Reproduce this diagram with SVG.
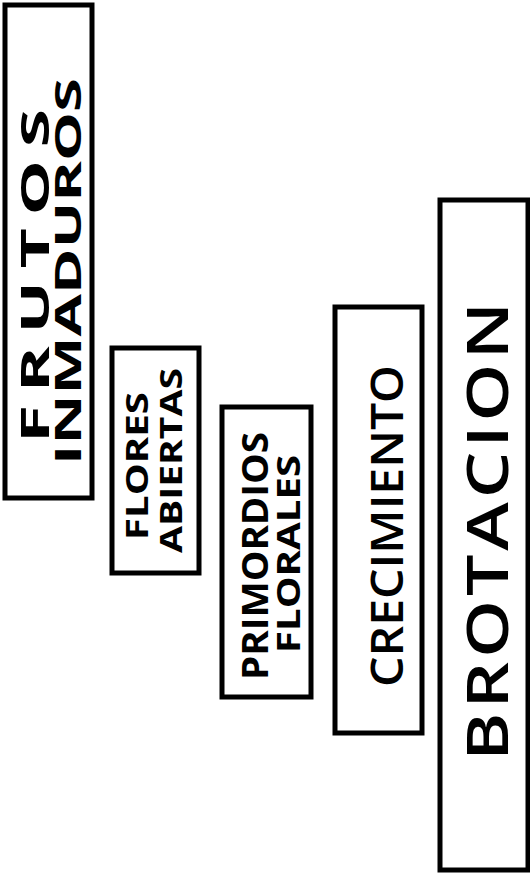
<svg xmlns="http://www.w3.org/2000/svg" width="530" height="876" viewBox="0 0 530 876">
  <style>
    .box { fill: #ffffff; stroke: #000000; stroke-width: 5; }
    .lbl { font-family: "Open Sans", "Liberation Sans", sans-serif; font-weight: 700; fill: #000000; }
    .big { font-weight: 600; }
  </style>
  <rect x="0" y="0" width="530" height="876" fill="#ffffff"/>

  <!-- stage 5: immature fruit -->
  <g id="frutos-inmaduros">
    <rect class="box" x="5" y="5" width="87" height="493"/>
    <text class="lbl" font-size="39" dx="0 7 7 7 7 7" textLength="334" lengthAdjust="spacingAndGlyphs" transform="translate(49,443) rotate(-90)">FRUTOS</text>
    <text class="lbl" font-size="35" textLength="387" lengthAdjust="spacingAndGlyphs" transform="translate(81,465) rotate(-90)">INMADUROS</text>
  </g>

  <!-- stage 4: open flowers -->
  <g id="flores-abiertas">
    <rect class="box" x="112" y="348" width="87" height="225"/>
    <text class="lbl" font-size="30" textLength="148" lengthAdjust="spacingAndGlyphs" transform="translate(148,540) rotate(-90)">FLORES</text>
    <text class="lbl" font-size="31" textLength="185" lengthAdjust="spacingAndGlyphs" transform="translate(182,553) rotate(-90)">ABIERTAS</text>
  </g>

  <!-- stage 3: floral primordia -->
  <g id="primordios-florales">
    <rect class="box" x="222" y="407" width="89" height="290"/>
    <text class="lbl" font-size="35" textLength="248" lengthAdjust="spacingAndGlyphs" transform="translate(268,680) rotate(-90)">PRIMORDIOS</text>
    <text class="lbl" font-size="33" textLength="198" lengthAdjust="spacingAndGlyphs" transform="translate(300,653) rotate(-90)">FLORALES</text>
  </g>

  <!-- stage 2: growth -->
  <g id="crecimiento">
    <rect class="box" x="335" y="307" width="87" height="426"/>
    <text class="lbl big" font-size="46" textLength="322" lengthAdjust="spacingAndGlyphs" transform="translate(403,687) rotate(-90)">CRECIMIENTO</text>
  </g>

  <!-- stage 1: budding -->
  <g id="brotacion">
    <rect class="box" x="440" y="200" width="88" height="670"/>
    <text class="lbl big" font-size="57" dx="0 3 3 3 3 3 3 3 3" textLength="459" lengthAdjust="spacingAndGlyphs" transform="translate(508,761) rotate(-90)">BROTACION</text>
  </g>

  <g id="connectors"/>
</svg>
